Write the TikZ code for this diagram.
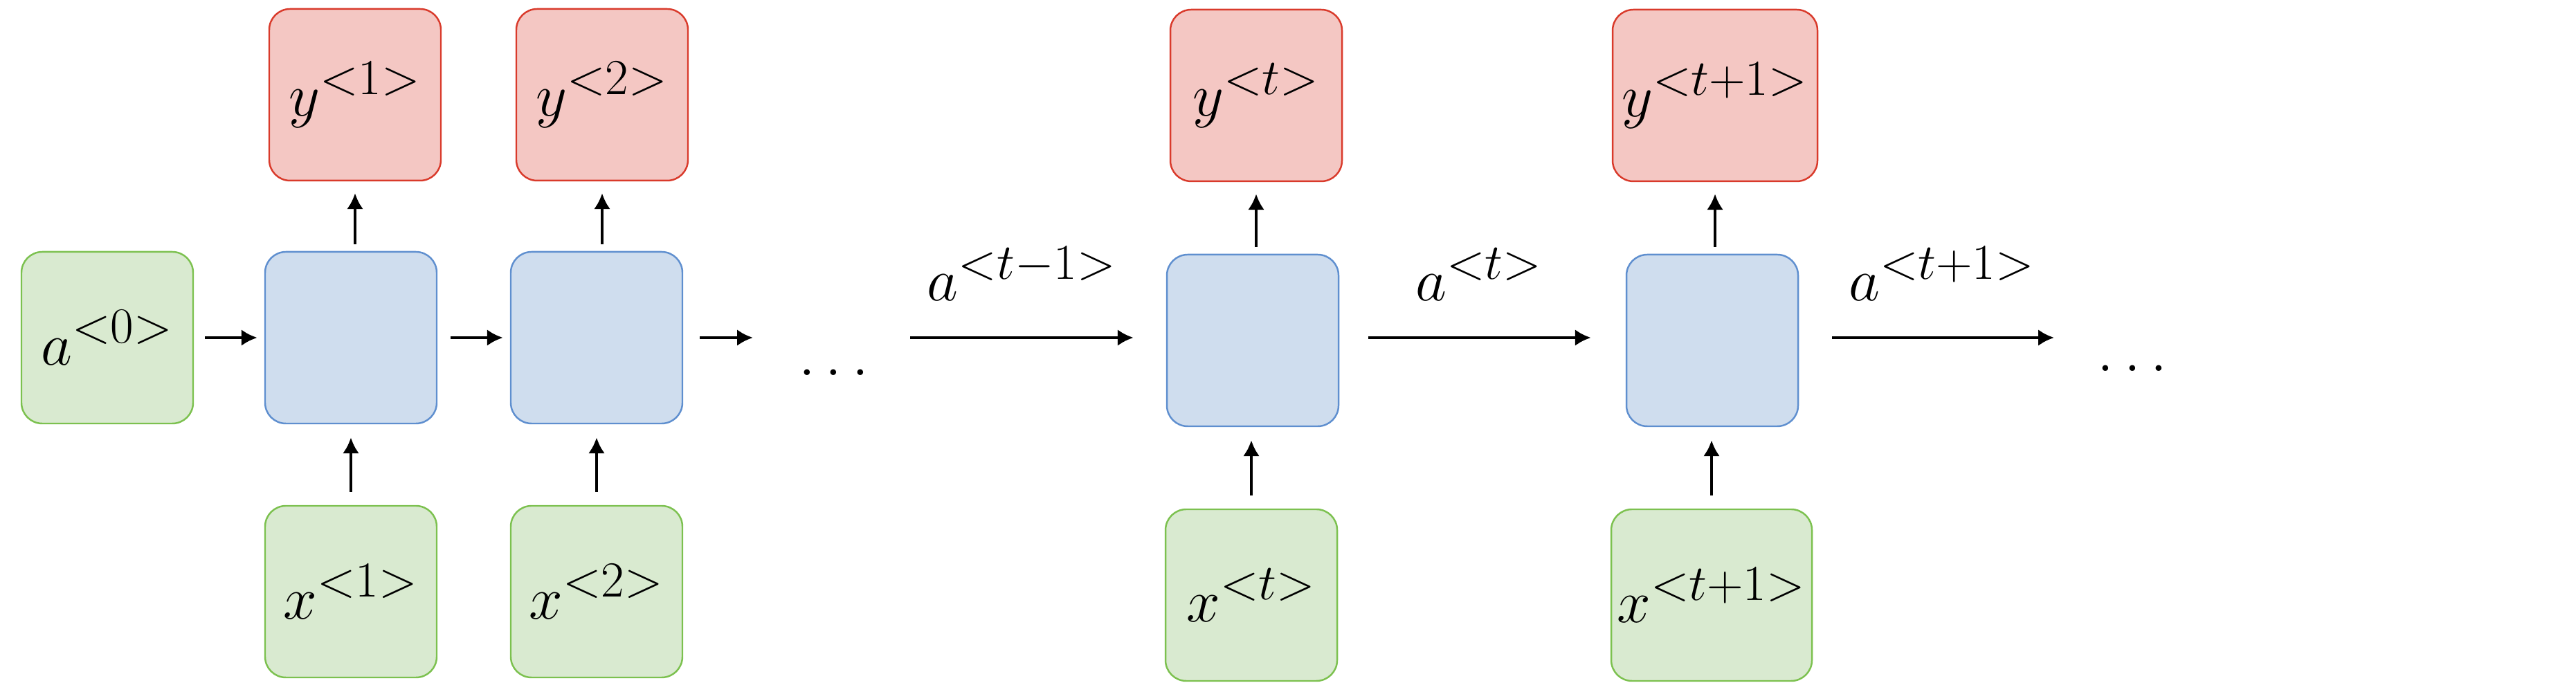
\documentclass[tikz,border=0pt]{standalone}
\usepackage{amsmath}
\usetikzlibrary{arrows.meta}
\definecolor{cellfill}{HTML}{CFDDEE}
\definecolor{cellline}{HTML}{5F8FCF}
\definecolor{infill}{HTML}{D9EAD0}
\definecolor{inline}{HTML}{7CC14F}
\definecolor{outfill}{HTML}{F4C7C3}
\definecolor{outline}{HTML}{D93A2B}

\begin{document}
\begin{tikzpicture}[line width=1.3pt,>={Latex[length=2.3mm,width=2.4mm]},
  every node/.style={font=\Huge},
  box/.style={line width=0.7pt,rounded corners=3mm,minimum width=2.48cm,minimum height=2.48cm,inner sep=0pt},
  cell/.style={box,draw=cellline,fill=cellfill},
  inbox/.style={box,draw=inline,fill=infill},
  outbox/.style={box,draw=outline,fill=outfill}]
  \useasboundingbox (0,0) rectangle (37.22,10);
  % first two steps
  \node[inbox] (a0) at (1.55,5.12) {$a^{<0>}$};
  \node[cell] (c1) at (5.07,5.12) {};
  \node[outbox] (y1) at (5.13,8.63) {$y^{<1>}$};
  \node[inbox] (x1) at (5.07,1.45) {$x^{<1>}$};
  \node[cell] (c2) at (8.62,5.12) {};
  \node[outbox] (y2) at (8.70,8.63) {$y^{<2>}$};
  \node[inbox] (x2) at (8.62,1.45) {$x^{<2>}$};
  \node[anchor=base] (dotsA) at (12.05,4.57) {$\ldots$};
  % steps t and t+1
  \node[cell] (ct) at (18.10,5.08) {};
  \node[outbox] (yt) at (18.15,8.62) {$y^{<t>}$};
  \node[inbox] (xt) at (18.08,1.40) {$x^{<t>}$};
  \node[cell] (ct1) at (24.74,5.08) {};
  \node[outbox,minimum width=2.96cm] (yt1) at (24.78,8.62) {$y^{<t+1>}$};
  \node[inbox,minimum width=2.90cm] (xt1) at (24.73,1.40) {$x^{<t+1>}$};
  \node[anchor=base] (dotsB) at (30.81,4.63) {$\ldots$};
  \coordinate (e2) at (10.88,5.12);
  \coordinate (s3) at (13.15,5.12);
  \coordinate (e4) at (29.68,5.12);
  % recurrent arrows
  \draw[->,shorten <=1.6mm,shorten >=1mm] (a0) -- (c1);
  \draw[->,shorten <=1.9mm,shorten >=1mm] (c1) -- (c2);
  \draw[->,shorten <=2.4mm] (c2.east |- e2) -- (e2);
  \draw[->,shorten >=4.7mm] (s3) -- node[pos=0.437,anchor=base,yshift=5.3mm]{$a^{<t-1>}$} (s3 -| ct.west);
  \draw[->,shorten <=4.2mm,shorten >=5mm] (s3 -| ct.east) -- node[pos=0.488,anchor=base,yshift=5.3mm]{$a^{<t>}$} (s3 -| ct1.west);
  \draw[->,shorten <=4.8mm] (s3 -| ct1.east) -- node[pos=0.56,anchor=base,yshift=5.3mm]{$a^{<t+1>}$} (e4);
  % inputs and outputs
  \foreach \n in {1,2,t,t1}{
    \draw[->,shorten <=1mm,shorten >=1.7mm] (c\n.north -| y\n) -- (y\n.south);
    \draw[->,shorten <=1.9mm,shorten >=1.9mm] (x\n) -- (x\n |- c\n.south);
  }
\end{tikzpicture}
\end{document}
